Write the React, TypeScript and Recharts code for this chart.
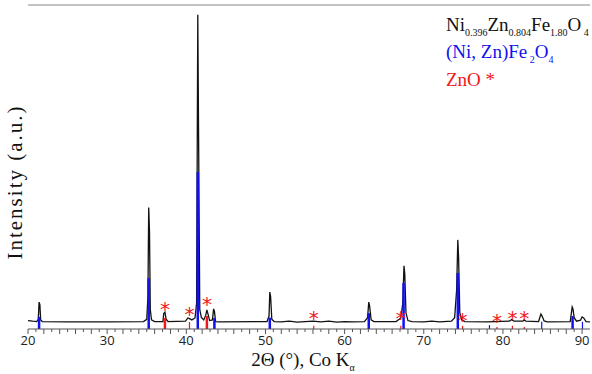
import React from 'react';
import { ComposedChart, Line, Scatter, XAxis, YAxis, ReferenceLine } from 'recharts';

// measured pattern (2θ, counts in a.u.)
const twoTheta = [
  20.0, 20.6, 21.1, 21.3, 21.4, 21.5, 21.6, 21.8, 25.0, 30.0,
  34.6, 35.0, 35.15, 35.25, 35.35, 35.45, 35.6, 36.0, 37.05, 37.15,
  37.3, 37.45, 37.7, 39.9, 40.2, 40.4, 40.7, 41.1, 41.3, 41.45,
  41.55, 41.7, 41.9, 42.2, 42.45, 42.6, 42.75, 42.95, 43.3, 43.45,
  43.55, 43.7, 44.2, 50.2, 50.45, 50.55, 50.65, 50.8, 51.1, 52.0,
  53.0, 54.0, 55.0, 56.0, 57.0, 58.0, 59.0, 60.0, 61.0, 62.5,
  62.9, 63.05, 63.15, 63.35, 63.7, 66.5, 66.9, 67.1, 67.35, 67.5,
  67.6, 67.75, 68.0, 68.5, 70.0, 71.0, 72.0, 73.5, 73.9, 74.15,
  74.3, 74.4, 74.55, 74.8, 75.2, 78.0, 79.0, 80.8, 81.1, 81.4,
  82.5, 82.7, 82.9, 84.5, 84.8, 84.95, 85.2, 85.6, 88.5, 88.75,
  88.85, 89.0, 89.3, 89.8, 90.0, 90.2, 90.5, 91.0,
];
const intensity = [
  2.6, 2.4, 2.3, 3.0, 8.3, 7.5, 2.8, 2.3, 2.2, 2.2,
  2.3, 3.0, 10, 37.5, 30, 6, 2.8, 2.3, 2.3, 4.8,
  5.2, 3.0, 2.3, 2.4, 3.4, 3.2, 2.8, 3.4, 8, 97,
  60, 6, 3.6, 2.8, 4.2, 5.9, 4.5, 2.6, 2.8, 6.2,
  5.5, 2.3, 2.2, 2.3, 4, 11.4, 10, 3, 2.3, 2.2,
  2.4, 2.1, 2.3, 2.4, 2.2, 2.4, 2.1, 2.3, 2.2, 2.3,
  3.5, 8.3, 7.2, 2.8, 2.3, 2.3, 3.0, 3.4, 8, 19.5,
  17, 5, 2.6, 2.3, 2.2, 2.4, 2.2, 2.4, 3.5, 12,
  27.5, 22, 5, 2.8, 2.3, 2.2, 2.3, 2.4, 2.9, 2.4,
  2.4, 2.8, 2.4, 2.3, 4.6, 4.0, 2.5, 2.2, 2.3, 6.8,
  6.2, 3.5, 2.4, 2.7, 3.7, 3.4, 2.3, 2.2,
];

// (Ni, Zn)Fe2O4 reference lines
const ferritePos = [21.4, 35.25, 41.45, 43.55, 50.55, 63.05, 67.45, 74.3, 78.3, 84.9, 88.8, 90.05];
const ferriteInt = [3.7, 15.7, 48.5, 3.4, 3.5, 4.9, 14.2, 17.3, 1.2, 2.2, 4.0, 2.2];

// ZnO reference lines
const zincPos = [37.3, 40.4, 42.6, 56.1, 67.1, 74.9, 79.25, 81.2, 82.7];
const zincInt = [3.4, 2.2, 4.0, 1.0, 1.0, 1.0, 0.6, 1.0, 0.6];
const starInt = [6.6, 5.0, 7.9, 3.8, 3.8, 3.2, 2.9, 3.8, 3.6];

const xTicks = Array.from({ length: 71 }, (_, i) => 20 + i);

const pattern = twoTheta.map((x, i) => ({ x, y: intensity[i] }));
const stars = zincPos.map((x, i) => ({ x, y: starInt[i] }));

const BLUE = '#1010f0';
const RED = '#f01818';
const serif = 'Liberation Serif, Times New Roman, serif';

const Tick = (props: any) => {
  const { x, y, payload } = props;
  const v = payload.value;
  const major = v % 10 === 0;
  const len = v % 2 === 0 ? 5 : 3;
  return (
    <g>
      <line x1={x} x2={x} y1={y} y2={y + len} stroke="#555" strokeWidth={1} />
      {major && (
        <text x={x} y={y + 16} textAnchor="middle" fontSize={13} fill="#222" fontFamily="Open Sans, sans-serif">
          {v}
        </text>
      )}
    </g>
  );
};

const Star = (props: any) => {
  const { cx, cy } = props;
  return (
    <text x={cx} y={cy + 8} textAnchor="middle" fontSize={20} fill={RED} fontFamily="DejaVu Sans, sans-serif">
      *
    </text>
  );
};

const sub = { fontSize: 10, fontFamily: serif };

export default function App() {
  return (
    <div style={{ position: 'absolute', left: 0, top: 0, width: 592, height: 374, background: '#fff', fontFamily: serif }}>
      <ComposedChart width={592} height={374} margin={{ top: 5, right: 2, bottom: 15, left: 28 }}>
        <XAxis
          dataKey="x"
          type="number"
          domain={[20, 91]}
          ticks={xTicks}
          interval={0}
          tickLine={false}
          tickSize={0}
          tickMargin={0}
          tick={<Tick />}
          stroke="#555"
          height={30}
          allowDataOverflow
        />
        <YAxis type="number" domain={[0, 100]} width={0} tick={false} tickLine={false} stroke="#999" strokeWidth={1.5} allowDataOverflow />
        <ReferenceLine y={100} stroke="#888" strokeWidth={1.2} />
        <Line data={pattern} dataKey="y" type="linear" stroke="#111" strokeWidth={1.3} dot={false} isAnimationActive={false} />
        {ferritePos.map((p, i) => (
          <ReferenceLine
            key={'f' + i}
            segment={[{ x: p, y: 0 }, { x: p, y: ferriteInt[i] }]}
            stroke={BLUE}
            strokeWidth={ferriteInt[i] >= 3 ? 2.5 : 1.2}
          />
        ))}
        {zincPos.map((p, i) => (
          <ReferenceLine
            key={'z' + i}
            segment={[{ x: p, y: 0 }, { x: p, y: zincInt[i] }]}
            stroke={RED}
            strokeWidth={zincInt[i] >= 3 ? 2.5 : 1.2}
          />
        ))}
        <Scatter data={stars} dataKey="y" shape={<Star />} isAnimationActive={false} />
      </ComposedChart>

      <div style={{ position: 'absolute', left: 446, top: 15, fontFamily: serif, fontSize: 19, lineHeight: '19.5px', whiteSpace: 'nowrap' }}>
        <div style={{ color: '#111', fontFamily: serif }}>
          Ni<sub style={sub}>0.396</sub>Zn<sub style={sub}>0.804</sub>Fe<sub style={sub}>1.80</sub>O<sub style={sub}> 4</sub>
        </div>
        <div style={{ color: BLUE, fontFamily: serif }}>
          (Ni, Zn)Fe<sub style={sub}> 2</sub>O<sub style={sub}>4</sub>
        </div>
        <div style={{ color: RED, fontFamily: serif }}>ZnO *</div>
      </div>

      <div style={{ position: 'absolute', left: 0, width: 592, top: 350, textAlign: 'center', fontFamily: serif, fontSize: 19, lineHeight: '20px', whiteSpace: 'nowrap', color: '#111' }}>
        <span style={{ marginLeft: 14, fontFamily: serif }}>
          2Θ (°), Co K<sub style={sub}>α</sub>
        </span>
      </div>

      <div
        style={{
          position: 'absolute',
          left: 15,
          top: 182,
          transform: 'translate(-50%, -50%) rotate(-90deg)',
          fontFamily: serif,
          fontSize: 21,
          letterSpacing: 2,
          whiteSpace: 'nowrap',
          color: '#111',
        }}
      >
        Intensity (a.u.)
      </div>
    </div>
  );
}
